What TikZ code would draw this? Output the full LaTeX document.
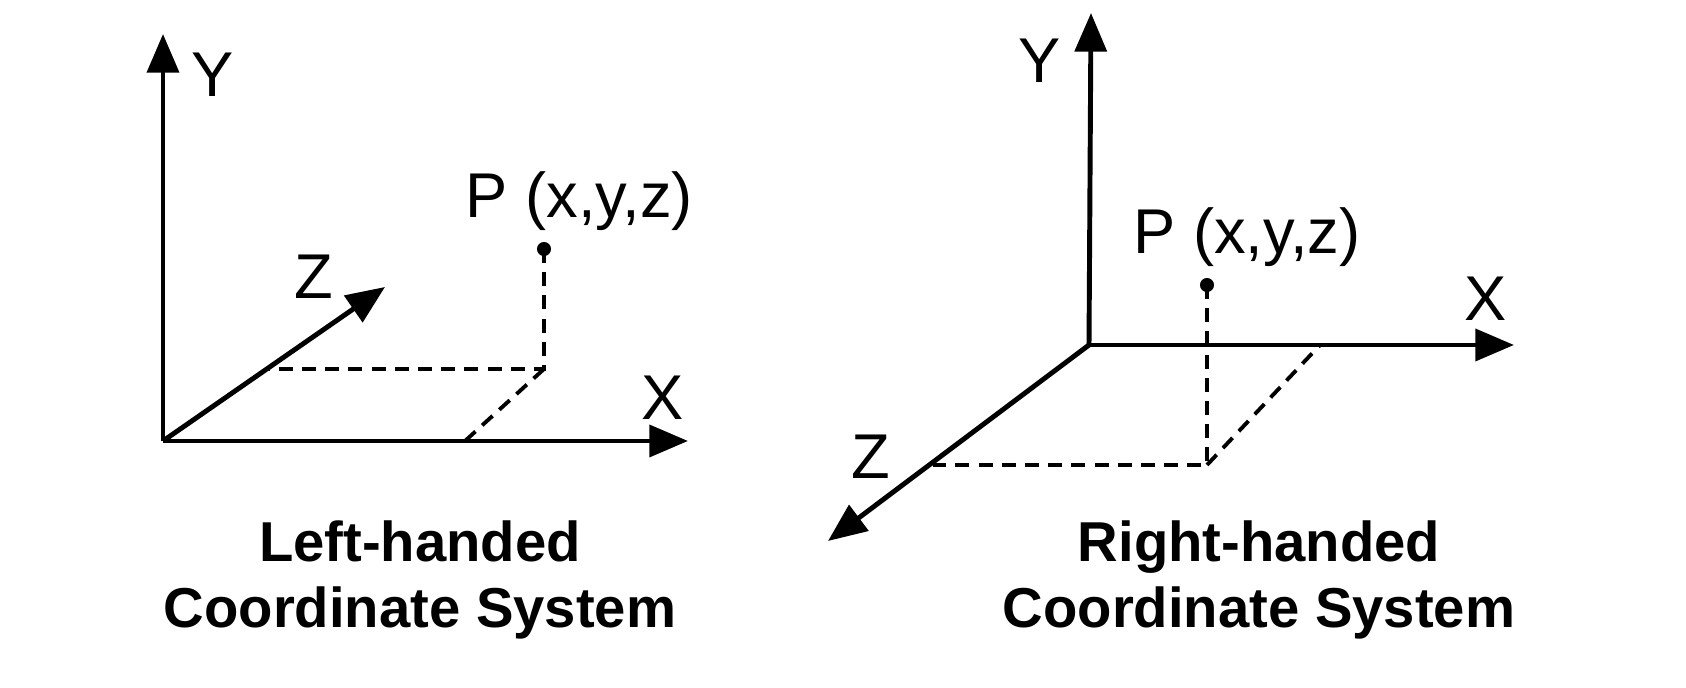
\documentclass[tikz,border=0pt]{standalone}
\usepackage{fontspec}
\setmainfont{Liberation Sans}
\usepackage{tikz}
\usetikzlibrary{arrows.meta}
\tikzset{
  axis_line/.style = {line width=1.4pt, black,
    -{Triangle[length=11pt, width=9pt]}},% axe avec fleche
  proj_line/.style = {line width=1.1pt, black,
    dash pattern=on 4pt off 2.6pt},% projection en tirets
  axis_label/.style = {inner sep=0pt, font=\fontsize{18}{21}\selectfont},% nom d'axe
  caption_text/.style = {align=center, inner sep=0pt,
    font=\fontsize{16}{18.8}\selectfont\bfseries},% titre sous le repere
  point_dot/.style = {circle, fill=black, inner sep=0pt, minimum size=4pt}% point P
}

\begin{document}
\begin{tikzpicture}
      \useasboundingbox (0,0) rectangle (16.86,6.88);
      % repere gauche
      \coordinate (ol) at (1.63,2.47);
      \coordinate (yl) at (1.63,6.54);
      \coordinate (xl) at (6.88,2.47);
      \coordinate (zl) at (3.85,4.01);
      \coordinate (zl_foot) at (2.69,3.19);
      \coordinate (pl_foot) at (5.44,3.19);
      \coordinate (xl_foot) at (4.65,2.47);
      \node [point_dot] (pl) at (5.44,4.39) {};
      \draw [axis_line] (ol) -- (yl);
      \draw [axis_line] (ol) -- (xl);
      \draw [axis_line] (ol) -- (zl);
      \draw [proj_line] (pl.center) -- (pl_foot) -- (zl_foot);
      \draw [proj_line] (pl_foot) -- (xl_foot);
      \node [axis_label] (yl_label) at (2.13,6.13) {Y};
      \node [axis_label] (zl_label) at (3.14,4.11) {Z};
      \node [axis_label] (xl_label) at (6.63,2.90) {X};
      \node [axis_label, anchor=west] (pl_label) at (4.65,4.87) {P (x,y,z)};
      \node [caption_text] (left_caption) at (4.20,1.08) {Left-handed\\Coordinate System};
      % repere droit
      \coordinate (or) at (10.89,3.43);
      \coordinate (yr) at (10.91,6.75);
      \coordinate (xr) at (15.14,3.43);
      \coordinate (zr) at (8.28,1.47);
      \coordinate (zr_foot) at (9.33,2.23);
      \coordinate (pr_foot) at (12.07,2.23);
      \coordinate (xr_foot) at (13.20,3.43);
      \node [point_dot] (pr) at (12.07,4.03) {};
      \draw [axis_line] (or) -- (yr);
      \draw [axis_line] (or) -- (xr);
      \draw [axis_line] (or) -- (zr);
      \draw [proj_line] (pr.center) -- (pr_foot) -- (zr_foot);
      \draw [proj_line] (pr_foot) -- (xr_foot);
      \node [axis_label] (yr_label) at (10.40,6.27) {Y};
      \node [axis_label] (xr_label) at (14.86,3.89) {X};
      \node [axis_label] (zr_label) at (8.71,2.31) {Z};
      \node [axis_label] (pr_label) at (12.47,4.51) {P (x,y,z)};
      \node [caption_text] (right_caption) at (12.59,1.08) {Right-handed\\Coordinate System};
\end{tikzpicture}
\end{document}
